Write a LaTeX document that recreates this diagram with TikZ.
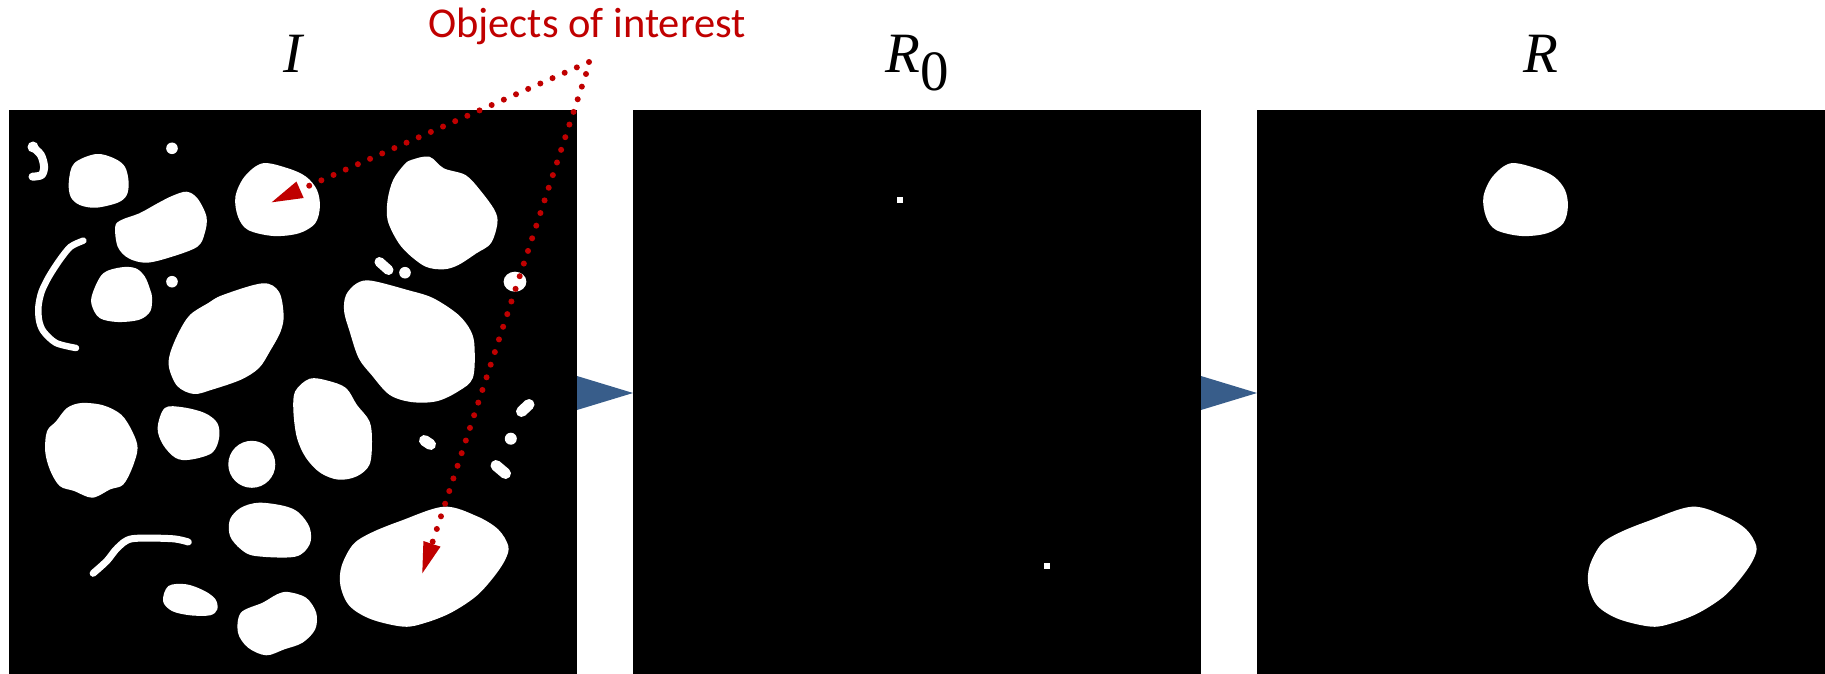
\documentclass[tikz,border=0pt]{standalone}
\usepackage{fontspec}
\setmainfont{Liberation Serif}
\newfontfamily\calibfont{Carlito}
\usetikzlibrary{arrows.meta,calc}
\definecolor{objred}{HTML}{C00000}
\definecolor{flowblue}{HTML}{385D8A}
\tikzset{
  panel/.style={fill=black, minimum width=568pt, minimum height=564pt, inner sep=0pt, outer sep=0pt},
  blob/.style={fill=white},
  strand/.style={draw=white, line cap=round, line join=round},
  pointer/.style={draw=objred, line width=6pt, line cap=round, dash pattern=on 0pt off 13.3pt,
     -{Triangle[length=31pt,width=18pt,line width=0pt]}},
  flow/.style={fill=flowblue},
  title/.style={font=\fontsize{57}{62}\selectfont\itshape, anchor=base, inner sep=0pt},
  callout/.style={font=\calibfont\fontsize{42.5}{48}\selectfont, text=objred, anchor=base west, inner sep=0pt},
  round blob/.style={smooth cycle, tension=0.55},
}
\newcommand{\blobfour}{\fill[blob] plot[round blob] coordinates {(262.6,163.3) (288,168.3) (306.1,176.7) (317,190) (319.9,206.7) (315.2,223.3) (298.9,233.3) (273.5,236) (248.1,230) (238,216.7) (235.4,196.7) (244.5,176.7)};}
\newcommand{\blobbig}{\fill[blob] plot[round blob] coordinates {(443.8,506.7) (476.4,516) (498.1,529.3) (508.3,546) (505.4,559.3) (494.5,576) (476.4,596) (451,612.7) (425.7,622.7) (403.9,626.7) (371.3,619.3) (349.6,606) (340.5,586) (341.6,566) (353.2,544.3) (371.3,532.7) (400.3,521)};}
\begin{document}
\begin{tikzpicture}[x=1pt, y=-1pt]
\useasboundingbox (0,0) rectangle (1825,674);
% panels
\node[panel] (p1) at (293,392) {};
\node[panel] (p2) at (917,392) {};
\node[panel] (p3) at (1541,392) {};
% flow triangles
\fill[flow] ($(p1.east)+(0,-16)$) -- ($(p2.west)+(0,1)$) -- ($(p1.east)+(0,18)$) -- cycle;
\fill[flow] ($(p2.east)+(0,-16)$) -- ($(p3.west)+(0,1)$) -- ($(p2.east)+(0,18)$) -- cycle;
% titles
\node[title] (tI) at (293,73) {I};
\node[title] (tR0) at (917,73) {R\raisebox{-0.3em}{\upshape 0}};
\node[title] (tR) at (1541,73) {R};
% ---------- panel I blobs ----------
\draw[strand, line width=8pt] plot[smooth] coordinates {(32.5,146.7) (40.9,155) (44.1,166.7) (41.6,175) (32.5,176.7)};
\fill[blob] (33,147) circle (5.5);
\fill[blob] (172,148.3) circle (5.8);
\fill[blob] plot[round blob] coordinates {(96,154) (114.1,158.3) (124.9,166.7) (128.6,181.7) (126.8,195) (117.7,202.7) (96,207.7) (79.7,205) (70.6,196.7) (68.8,181.7) (74.2,163.3)};
\blobfour
\fill[blob] plot[round blob] coordinates {(411.2,160) (429.3,156.7) (443.8,168.3) (465.5,175) (480,190) (494.5,210) (497.4,223.3) (490.9,243.3) (476.4,253.3) (458.3,265) (443.8,269.3) (425.7,266.7) (407.6,253.3) (396.7,240) (387.6,220) (387.6,200) (393.1,180) (403.9,165)};
\fill[blob] plot[round blob] coordinates {(186.5,191.7) (197.4,198.3) (206.5,216.7) (204.7,233.3) (197.4,246.7) (172,256.7) (146.7,262.7) (128.6,258.3) (117.7,246.7) (115.2,226.7) (121.3,220) (139.4,213.3) (157.6,203.3) (172,196)};
\draw[strand, line width=6.5pt] plot[smooth] coordinates {(83.3,240.7) (70.6,246.7) (59.7,260) (48.9,276.7) (41.6,291.7) (38.5,306) (39,320) (43.4,331.3) (56.1,343) (76,348)};
\fill[blob] plot[round blob] coordinates {(121.3,267.3) (135.8,268.3) (144.9,276.7) (150.3,290) (152.1,298) (150.3,311.3) (139.4,319.7) (117.7,322) (99.6,318) (91.6,304.7) (93,292) (103.2,273.3)};
\fill[blob] (172,281.7) circle (5.8);
\draw[strand, line width=10pt] (379.5,262) -- (388.5,270);
\fill[blob] (405,272.7) circle (5.8);
\fill[blob] (515,281.7) ellipse (11.4 and 10);
\fill[blob] plot[round blob] coordinates {(222.8,295) (262.6,283.3) (278.9,291.7) (283.6,314.7) (280.7,331.3) (269.9,351.3) (259,368) (240.9,379.7) (211.9,389.7) (193.8,394) (177.5,386.3) (169.1,368) (170.2,353) (179.3,331.3) (190.2,314.7) (208.3,303)};
\fill[blob] plot[round blob] coordinates {(371.3,280.7) (407.6,290) (432.9,298) (458.3,314.7) (471,331.3) (474.6,348) (472.8,378) (458.3,391.3) (436.5,401.3) (411.2,402) (389.4,394.7) (371.3,374.7) (358.6,358) (349.6,331.3) (344.1,311.3) (346,295) (356.8,283.3)};
\fill[blob] plot[round blob] coordinates {(81.5,403) (103.2,405.3) (121.3,414.7) (132.2,431.3) (137.6,448) (132.2,468) (123.1,484.7) (110.4,489.3) (92.3,497.7) (74.2,491) (59.7,486) (50,470) (45.2,451.3) (47,431.3) (56.1,421.3) (67,408)};
\fill[blob] plot[round blob] coordinates {(164.8,408) (182.9,407.3) (204.7,413) (217.3,423) (219.1,438) (211.9,453) (190.2,459.7) (175.7,458) (163,444.7) (157.6,428)};
\fill[blob] plot[round blob] coordinates {(309.7,378.7) (327.8,380.7) (346,388) (356.8,404.7) (369.5,421.3) (372,441.3) (369.5,464.7) (356.8,476.3) (338.7,479.7) (320.6,473) (306.1,458) (297,438) (293.4,411.3) (295.2,391.3)};
\fill[blob] (251.8,464.3) circle (23.5);
\draw[strand, line width=11pt] (521.5,411.5) -- (529,404.5);
\draw[strand, line width=11pt] (424.5,440.5) -- (430.5,444.5);
\fill[blob] (510.8,438.7) circle (6);
\draw[strand, line width=11pt] (496,465.5) -- (505.5,473.5);
\fill[blob] plot[round blob] coordinates {(259,502.7) (284.4,506) (298.9,512.7) (309.7,527.7) (309.7,544.3) (295.2,556.7) (255.4,556) (240.9,549.3) (230,536) (230,519.3) (240.9,507.7)};
\draw[strand, line width=7pt] plot[smooth] coordinates {(93.1,573.3) (106.8,561) (117.7,547.7) (132.2,538.7) (172,538.7) (188.3,542)};
\blobbig
\fill[blob] plot[round blob] coordinates {(168.4,586) (186.5,584.3) (204.7,591) (215.5,599.3) (217.3,609.3) (210.1,615.3) (190.2,615.3) (172,611) (163,601)};
\fill[blob] plot[round blob] coordinates {(288,592) (306.1,597.7) (316.2,612.7) (315.2,629.3) (302.5,642.7) (284.4,649.3) (266.2,655.3) (248.1,647.7) (238,632.7) (240.9,612.7) (262.6,602.7) (277.1,594.3)};
% ---------- panel R0 seeds ----------
\fill[white] (897,196.5) rectangle (903,202.5);
\fill[white] (1044,563) rectangle (1050,569);
% ---------- panel R ----------
\begin{scope}[xshift=1248pt]
\blobfour
\blobbig
\end{scope}
% ---------- callout ----------
\node[callout] (obj) at (428,37.7) {Objects of interest};
\coordinate (srcA) at (589,62);
\coordinate (srcB) at (586,74);
\coordinate (tgtA) at (271.7,202.3);
\coordinate (tgtB) at (422.3,573.3);
\draw[pointer] (srcA) -- (tgtA);
\draw[pointer] (srcB) -- (tgtB);
\end{tikzpicture}
\end{document}
